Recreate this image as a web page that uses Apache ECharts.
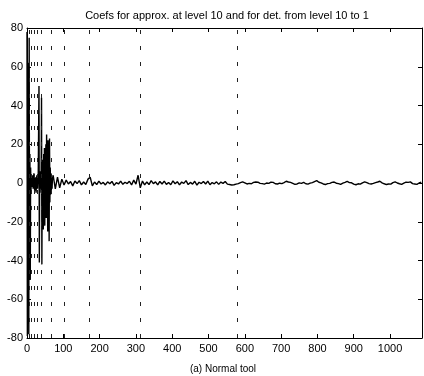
<!DOCTYPE html>
<html>
<head>
<meta charset="utf-8">
<script src="https://cdn.jsdelivr.net/npm/echarts@6/dist/echarts.min.js"></script>
<style>
  html, body { margin: 0; padding: 0; background: #fff; }
  #chart { width: 424px; height: 376px; }
</style>
</head>
<body>
<div id="chart"></div>
<script>
// burst of coefficients at the start (approx + coarse details)
const headX = [0, 1, 2, 3, 4, 5, 6, 7, 8, 9, 10, 11, 12, 13, 15, 17, 19, 21, 23, 25, 27, 29, 31,
  33, 34, 35, 36, 37, 38, 39, 40, 41, 42, 43, 44, 45, 46, 47, 48, 49, 50, 51, 52, 53, 54, 55,
  56, 57, 58, 59, 60, 61, 62, 63, 64, 65, 66, 67, 68, 69, 70];
const headY = [78, -79, 62, -72, 30, -78, 75, -35, 15, -50, 8, -4, 3, -2, 4, -3, 5, -4, 3, -5, 4, -3, 5,
  50, -41, 3, -5, 6, -3, 4, 44, -42, 8, -20, 12, -24, 15, -10, 18, -22, 10, -15, 20, -18, 25, -12,
  14, -25, 22, -8, 12, -30, 23, -10, 8, -6, 5, -4, 3, -3, 2];

// finer details, sampled every 6 from 72
const tailStart = 72;
const tailStep = 6;
const tailY = [
  4, -3, 3, -2.5, 2,
  -1, 1.5, -0.5, 0.8, -1.5, 1, -0.3, 1.2, -1, 0.5, -0.8, 2,
  3, -1.5, 0.5, -0.8, 1, -0.5, 0.3, -1, 0.6, -0.4, 0.8, -1.2, 0.2, -0.5, 1, -0.7, 0.4, -0.3, 0.9, -1, 1.5, -0.6,
  4, -2.5, 1, -1, 0.5, -0.8, 1.2, -0.3, 0.6, -1, 0.8, -0.5, 1, -0.7, 0.3, -0.9, 1.1,
  -0.4, 0.7, -1, 0.5, -0.2, 1.2, -0.8, 0.3, -0.6, 0.9, -1.1, 0.4, -0.3, 0.8, -0.5, 1, -0.9, 0.2, -0.4, 0.6, -0.7, 0.5, -0.2, 0.8, -0.6,
  -0.8, -1, -0.9, -0.6,
  -0.3, 0.2, 0.6, 0.1, -0.5, -0.2, -0.4, 0.3, 0.5, 0.4,
  -0.2, -0.3, -0.6, 0, -0.2, 0.4, 0.3, -0.4, -0.5, -0.1,
  -0.3, 0.2, 0.9, 0.5, 0.3, -0.2, -0.7, -0.5, 0.1, -0.2,
  0.3, -0.4, -0.6, -0.1, 0.2, 0.7, 1.2, 0.4, 0.1, -0.5,
  -0.8, -0.3, -0.2, 0.3, 0.5, -0.1, -0.3, -0.7, -0.1, 0.3,
  0.8, 0.2, 0.1, -0.6, -0.9, -0.4, -0.6, 0.1, 0.6, 0.2,
  -0.3, -0.5, -0.2, 0.2, 0.5, 0.9, 0.1, -0.4, -0.8, -0.5,
  -0.6, 0.2, 0.6, 0, -0.4, -0.7, -0.1, 0.4, 0.3, 0.6,
  -0.3, -0.5, -0.7, 0, 0.4
];

// level boundaries (dashed separators)
const levelBounds = [6, 11, 19, 28, 39, 66, 102, 171, 312, 580];

const xMax = 1088;

const points = headX.map((x, i) => [x, headY[i]]);
tailY.forEach((y, i) => points.push([tailStart + i * tailStep, y]));

const chart = echarts.init(document.getElementById("chart"));
const font = "Liberation Sans, Arial, sans-serif";
const axisCommon = {
  axisLine: { show: true, onZero: false, lineStyle: { color: "#000", width: 1 } },
  axisTick: { show: true, inside: true, length: 4, lineStyle: { color: "#000" } },
  splitLine: { show: false },
};

chart.setOption({
  animation: false,
  backgroundColor: "#fff",
  title: [
    {
      text: "Coefs for approx. at level 10 and for det. from level 10 to 1",
      left: 222,
      top: 5,
      textAlign: "center",
      textStyle: { fontFamily: font, fontSize: 11, fontWeight: "normal", color: "#000" },
    },
    {
      text: "(a) Normal tool",
      left: 218,
      top: 359,
      textAlign: "center",
      textStyle: { fontFamily: font, fontSize: 10, fontWeight: "normal", color: "#000" },
    },
  ],
  grid: { left: 27, right: 2, top: 28, bottom: 38 },
  xAxis: [
    {
      type: "value",
      min: 0,
      max: xMax,
      interval: 100,
      ...axisCommon,
      axisLabel: {
        color: "#000", fontFamily: font, fontSize: 11, margin: 5, showMaxLabel: false,
        formatter: (v) => String(v),
      },
    },
    {
      type: "value",
      position: "top",
      min: 0,
      max: xMax,
      interval: 100,
      ...axisCommon,
      axisLabel: { show: false },
    },
  ],
  yAxis: [
    {
      type: "value",
      min: -80,
      max: 80,
      interval: 20,
      ...axisCommon,
      axisLabel: { color: "#000", fontFamily: font, fontSize: 11, margin: 4 },
    },
    {
      type: "value",
      position: "right",
      min: -80,
      max: 80,
      interval: 20,
      ...axisCommon,
      axisLabel: { show: false },
    },
  ],
  series: [
    {
      type: "line",
      data: points,
      showSymbol: false,
      lineStyle: { color: "#000", width: 1.4 },
      markLine: {
        silent: true,
        symbol: "none",
        label: { show: false },
        lineStyle: { color: "#222", width: 1, type: [4, 12] },
        data: levelBounds.map((b) => ({ xAxis: b })),
      },
    },
  ],
});
</script>
</body>
</html>
